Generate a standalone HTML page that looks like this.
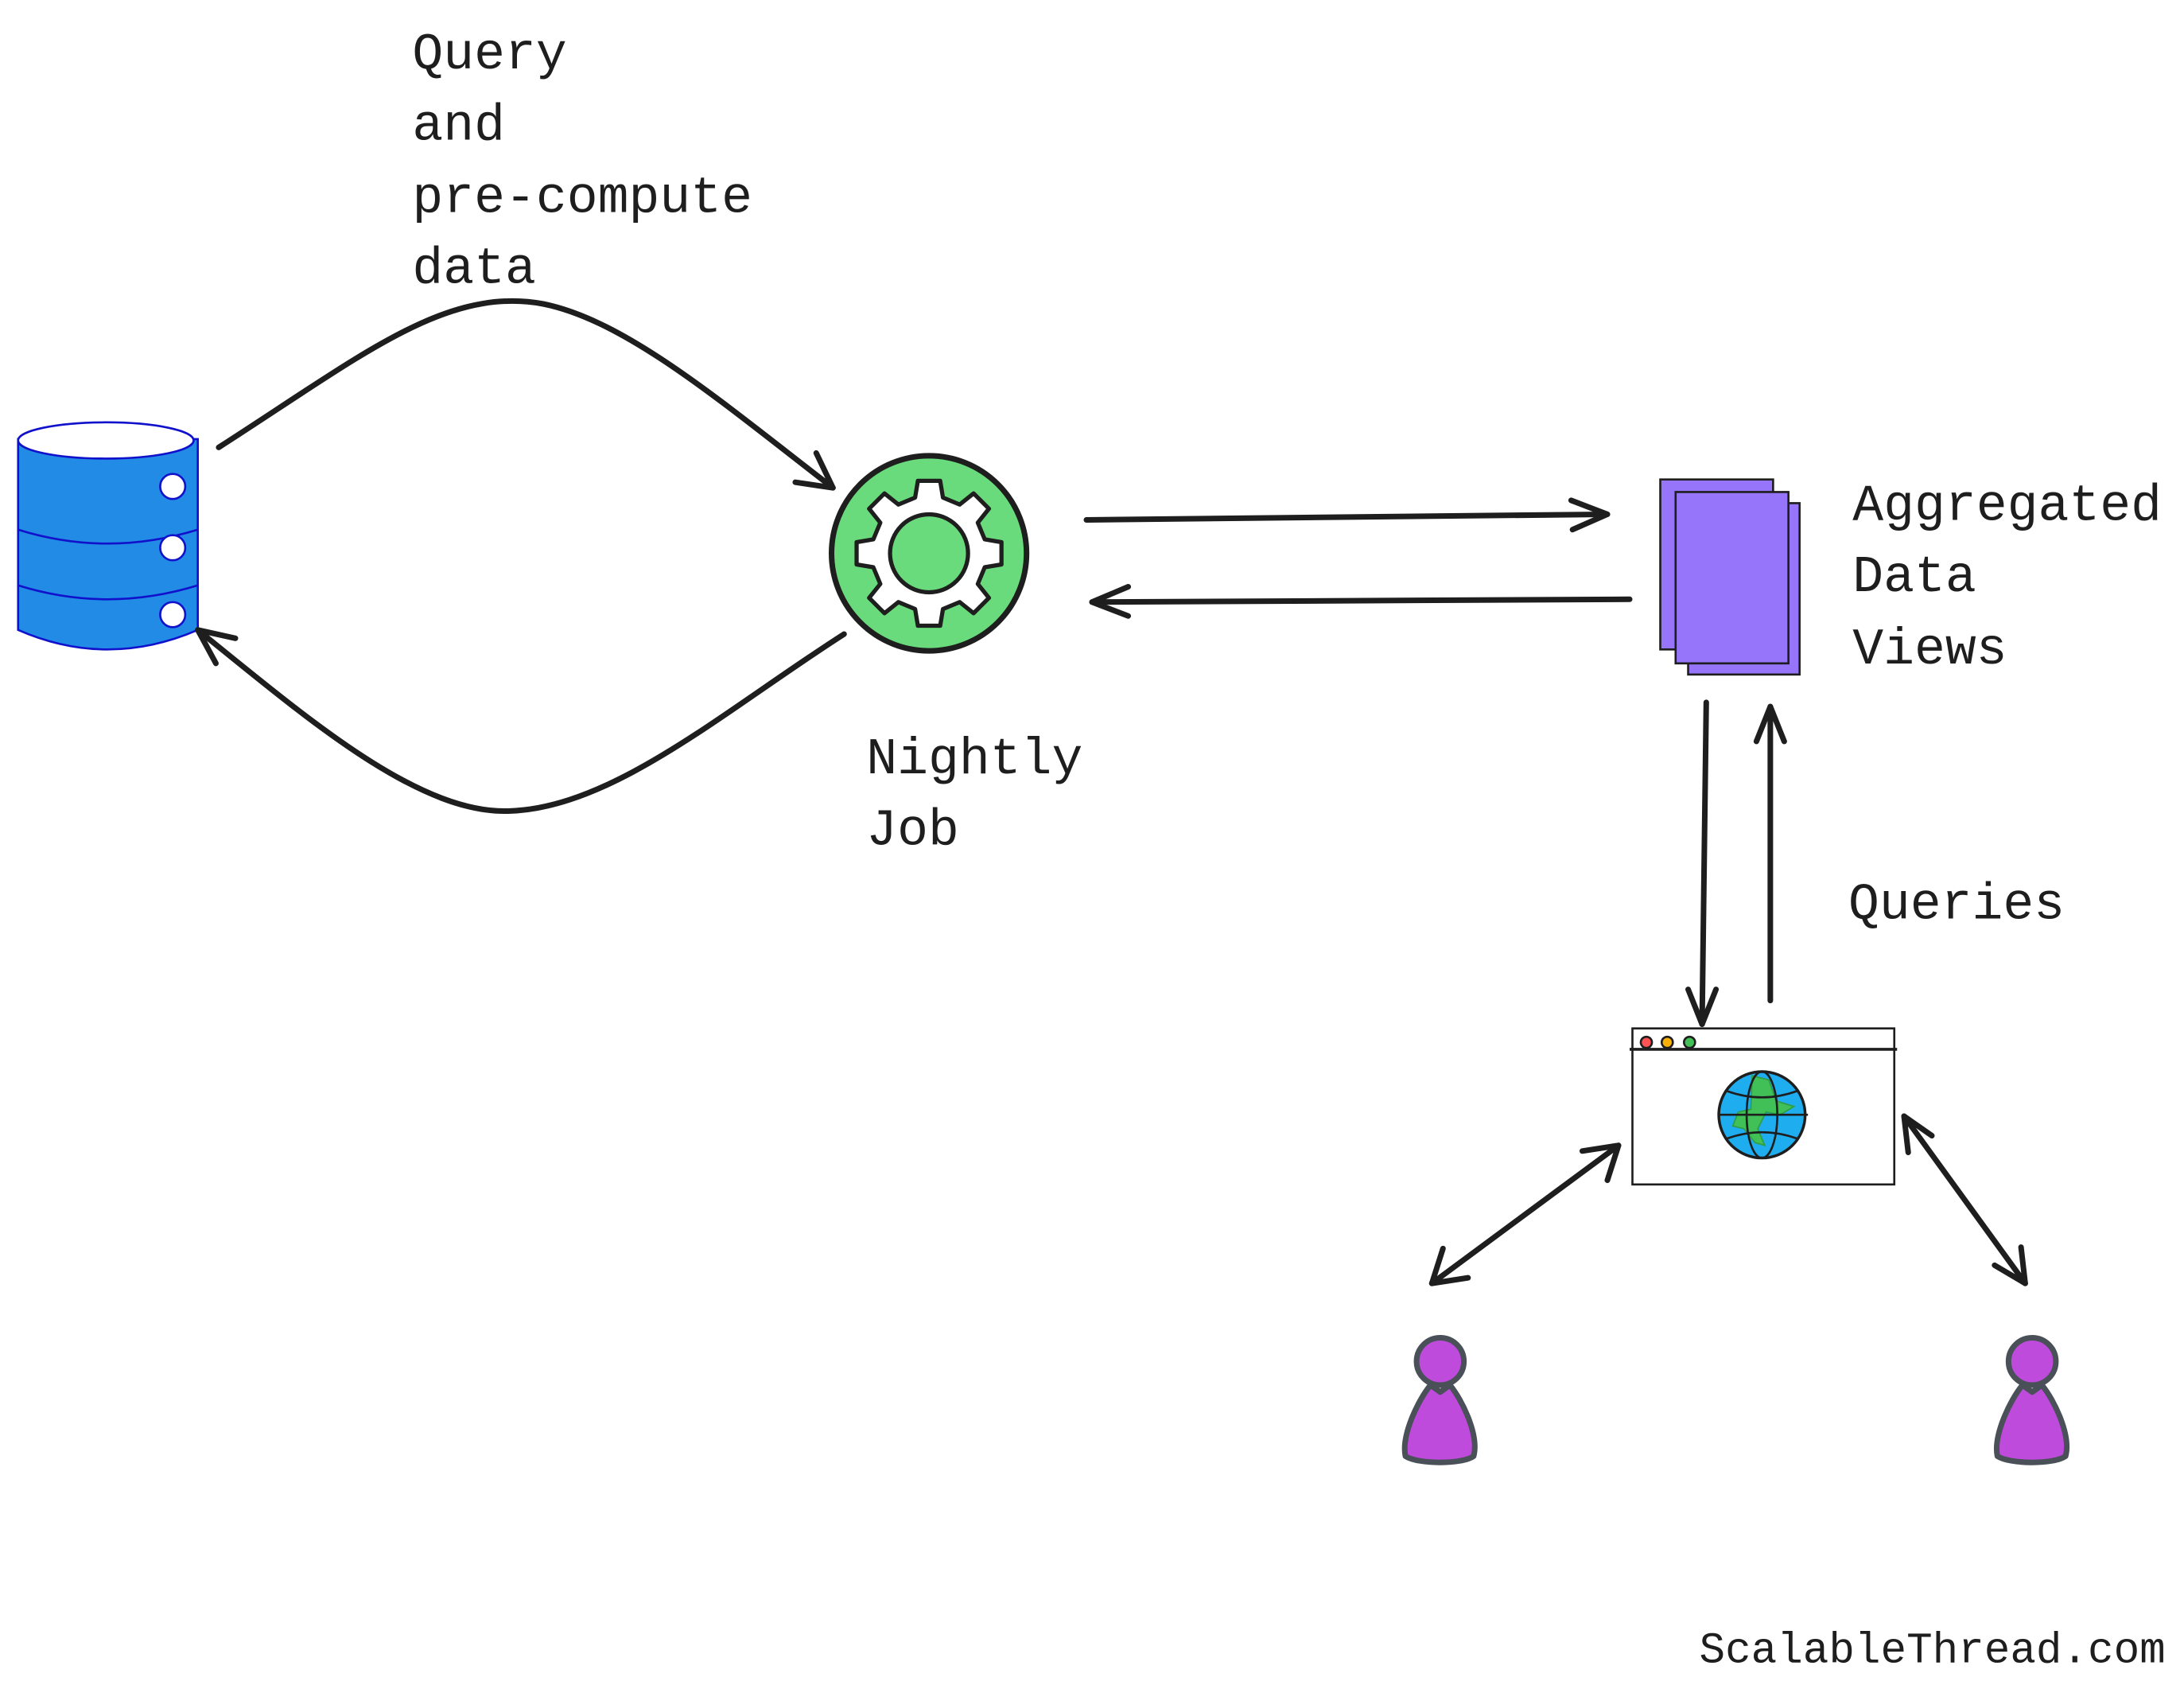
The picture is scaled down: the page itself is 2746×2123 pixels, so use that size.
<!DOCTYPE html>
<html><head><style>html,body{margin:0;padding:0;background:#fff}svg{display:block}</style></head>
<body>
<svg width="2746" height="2123" viewBox="0 0 1568 1212" xmlns="http://www.w3.org/2000/svg">
<defs>
<marker id="a" markerWidth="10" markerHeight="10" refX="8" refY="5" orient="auto-start-reverse" markerUnits="userSpaceOnUse" viewBox="0 0 10 10">
</marker>
</defs>
<g font-family="Liberation Mono, monospace" font-size="37" fill="#1e1e1e">
<text x="296" y="49">Query</text>
<text x="296" y="100">and</text>
<text x="296" y="152">pre-compute</text>
<text x="296" y="203">data</text>
<text x="622" y="555">Nightly</text>
<text x="622" y="606">Job</text>
<text x="1330" y="373">Aggregated</text>
<text x="1330" y="424">Data</text>
<text x="1330" y="476">Views</text>
<text x="1327" y="659">Queries</text>
<text x="1220" y="1193" font-size="31">ScalableThread.com</text>
</g>
<!-- database -->
<g stroke="#1111cc" stroke-width="1.5">
<path d="M13 315 L13 452 Q77 480 142 452 L142 315 Z" fill="#228be6"/>
<path d="M13 380 Q77 400 142 380" fill="none"/>
<path d="M13 420 Q77 440 142 420" fill="none"/>
<ellipse cx="76" cy="316" rx="63" ry="13" fill="#fff"/>
<circle cx="124" cy="349" r="9" fill="#fff"/>
<circle cx="124" cy="393" r="9" fill="#fff"/>
<circle cx="124" cy="441" r="9" fill="#fff"/>
</g>
<!-- arrows -->
<g stroke="#1e1e1e" stroke-width="4" fill="none" stroke-linecap="round" stroke-linejoin="round">
<path d="M157 321 C260 255 320 205 390 218 C450 230 520 290 598 350"/>
<path d="M571 346 L598 350 L586 325"/>
<path d="M606 455 C520 510 440 580 365 582 C300 584 220 515 142 452"/>
<path d="M155 476 L142 452 L169 458"/>
<path d="M780 373 L1154 369"/>
<path d="M1128 359 L1154 369 L1129 380"/>
<path d="M1170 430 L784 432"/>
<path d="M810 421 L784 432 L810 442"/>
<path d="M1225 504 L1222 735"/>
<path d="M1212 710 L1222 735 L1232 710"/>
<path d="M1271 718 L1271 507"/>
<path d="M1261 532 L1271 507 L1281 532"/>
<path d="M1028 921 L1162 822"/>
<path d="M1036 896 L1028 921 L1054 917"/>
<path d="M1136 826 L1162 822 L1154 847"/>
<path d="M1367 801 L1454 921"/>
<path d="M1370 827 L1367 801 L1387 815"/>
<path d="M1451 895 L1454 921 L1432 908"/>
</g>
<!-- gear -->
<circle cx="667" cy="397" r="70" fill="#69db7c" stroke="#1e1e1e" stroke-width="4"/>
<g transform="translate(667,397)" stroke="#1e1e1e" stroke-width="3" fill="#fff" stroke-linejoin="round">
<path d="M-8 -52 L8 -52 L10 -40 L22 -35 L32 -43 L43 -32 L35 -22 L40 -10 L52 -8 L52 8 L40 10 L35 22 L43 32 L32 43 L22 35 L10 40 L8 52 L-8 52 L-10 40 L-22 35 L-32 43 L-43 32 L-35 22 L-40 10 L-52 8 L-52 -8 L-40 -10 L-35 -22 L-43 -32 L-32 -43 L-22 -35 L-10 -40 Z"/>
<circle r="28" fill="#69db7c"/>
</g>
<!-- docs -->
<g stroke="#1e1e1e" stroke-width="1.5" fill="#9775fa">
<rect x="1192" y="344" width="81" height="122"/>
<rect x="1212" y="361" width="80" height="123"/>
<rect x="1203" y="353" width="81" height="123"/>
</g>
<!-- browser -->
<g stroke="#1e1e1e" stroke-width="1.5">
<rect x="1172" y="738" width="188" height="112" fill="#fff"/>
<path d="M1170 753 L1362 753" stroke-width="2"/>
<circle cx="1182" cy="748" r="4" fill="#ff5252"/>
<circle cx="1197" cy="748" r="4" fill="#fab005"/>
<circle cx="1213" cy="748" r="4" fill="#40c057"/>
<circle cx="1265" cy="800" r="31" fill="#1eaef0" stroke-width="2"/>
<path d="M1258 772 L1270 775 L1275 790 L1288 794 L1278 800 L1268 798 L1262 810 L1267 822 L1260 820 L1252 810 L1244 808 L1248 798 L1257 796 Z" fill="#40c057" stroke="#2f9e44" stroke-width="1"/>
<ellipse cx="1265" cy="800" rx="11" ry="31" fill="none"/>
<path d="M1234 800 L1298 800 M1240 783 Q1265 792 1290 783 M1240 817 Q1265 808 1290 817" fill="none"/>
</g>
<!-- persons -->
<g fill="#be4bdb" stroke="#495057" stroke-width="4" stroke-linejoin="round">
<path d="M1027 994 L1034 999 L1041 994 C1050 1005 1062 1030 1058 1045 C1050 1051 1018 1051 1009 1045 C1006 1030 1018 1005 1027 994 Z"/>
<circle cx="1034" cy="977" r="17"/>
<path d="M1452 994 L1459 999 L1466 994 C1475 1005 1487 1030 1483 1045 C1475 1051 1443 1051 1434 1045 C1431 1030 1443 1005 1452 994 Z"/>
<circle cx="1459" cy="977" r="17"/>
</g>
</svg>
</body></html>
